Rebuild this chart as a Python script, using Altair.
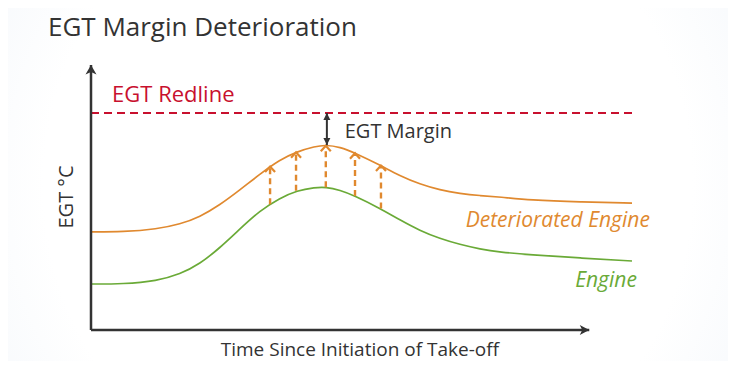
import altair as alt
import pandas as pd

FONT = "Open Sans"
ORANGE = "#e0892f"
GREEN = "#6aaa37"
RED = "#c8102e"
DARK = "#333333"

# Curves: time since initiation of take-off (relative units) vs EGT (relative units)
curve_time = [0, 5.9, 12.2, 16.5, 20.1, 23.8, 27.5, 31.2, 34.9, 38.1, 41.4, 43.4,
              46.0, 48.8, 53.4, 57.1, 60.8, 64.5, 68.2, 71.9, 75.6, 81.1, 90.4, 100]
deteriorated_egt = [452, 452, 465, 488, 521, 576, 645, 718, 785, 822, 846, 853,
                    843, 816, 760, 710, 672, 645, 629, 619, 613, 599, 590, 585]
engine_egt = [212, 212, 226, 258, 304, 378, 465, 550, 608, 643, 657, 659,
              645, 618, 561, 507, 458, 421, 394, 373, 359, 346, 332, 318]

# Deterioration arrows (engine -> deteriorated engine)
arrow_time = [33.1, 37.9, 43.4, 48.8, 53.6]
arrow_base = [580, 642, 658, 618, 560]
arrow_tip = [753, 819, 849, 815, 758]

redline_egt = 1000
redline_span = [0, 100]
margin_time = 43.6
margin_low = 852
axis_x_end = 92.1
axis_y_end = 1221

xs = alt.Scale(domain=[-15.342, 117.745], nice=False, zero=False)
ys = alt.Scale(domain=[-142.9, 1276.5], nice=False, zero=False)


def X(f):
    return alt.X(f, type="quantitative", scale=xs, axis=None)


def Y(f):
    return alt.Y(f, type="quantitative", scale=ys, axis=None)


curves = pd.DataFrame({
    "t": curve_time * 2,
    "egt": deteriorated_egt + engine_egt,
    "series": ["Deteriorated Engine"] * len(curve_time) + ["Engine"] * len(curve_time),
})
arrows = pd.DataFrame({"t": arrow_time, "base": arrow_base, "tip": arrow_tip})

bg = alt.Chart(pd.DataFrame({"a": [0]})).mark_rect(
    fill={"gradient": "radial", "x1": 0.5, "y1": 0.5, "r1": 0.0,
          "x2": 0.5, "y2": 0.5, "r2": 0.75,
          "stops": [{"offset": 0, "color": "#ffffff"},
                    {"offset": 0.6, "color": "#ffffff"},
                    {"offset": 1, "color": "#eef3f9"}]},
    strokeWidth=0,
).encode(x=alt.value(0), x2=alt.value(720), y=alt.value(-45), y2=alt.value(308))

redline = alt.Chart(pd.DataFrame({"t0": [redline_span[0]], "t1": [redline_span[1]], "egt": [redline_egt]})).mark_rule(
    color=RED, strokeWidth=1.8, strokeDash=[8, 5]
).encode(x=X("t0"), x2="t1", y=Y("egt"))

lines = alt.Chart(curves).mark_line(strokeWidth=1.7, interpolate="basis").encode(
    x=X("t"), y=Y("egt"),
    color=alt.Color("series:N", scale=alt.Scale(domain=["Deteriorated Engine", "Engine"], range=[ORANGE, GREEN]), legend=None),
    detail="series:N",
)

dash_arrows = alt.Chart(arrows).mark_rule(color=ORANGE, strokeWidth=2.4, strokeDash=[6, 4]).encode(
    x=X("t"), y=Y("base"), y2="tip"
)
chevrons = alt.Chart(arrows).mark_point(
    shape="M-1,1.1 L0,0 L1,1.1", filled=False, stroke=ORANGE, strokeWidth=2.2, size=100, opacity=1
).encode(x=X("t"), y=Y("tip"))

margin_df = pd.DataFrame({"t": [margin_time], "hi": [redline_egt], "lo": [margin_low]})
margin_line = alt.Chart(margin_df).mark_rule(color=DARK, strokeWidth=2).encode(x=X("t"), y=Y("hi"), y2="lo")
margin_up = alt.Chart(margin_df).mark_point(
    shape="M0,0 L-1,2 L1,2 Z", filled=True, fill=DARK, strokeWidth=0, size=49, opacity=1
).encode(x=X("t"), y=Y("hi"))
margin_down = alt.Chart(margin_df).mark_point(
    shape="M0,0 L-1,-2 L1,-2 Z", filled=True, fill=DARK, strokeWidth=0, size=49, opacity=1
).encode(x=X("t"), y=Y("lo"))

axes_df = pd.DataFrame({"x0": [0], "x1": [axis_x_end], "y0": [0], "y1": [axis_y_end]})
y_axis = alt.Chart(axes_df).mark_rule(color=DARK, strokeWidth=2.5).encode(x=X("x0"), y=Y("y0"), y2="y1")
x_axis = alt.Chart(axes_df).mark_rule(color=DARK, strokeWidth=2.5).encode(x=X("x0"), x2="x1", y=Y("y0"))
y_head = alt.Chart(axes_df).mark_point(
    shape="M0,0 L-1.1,1.9 L0,1.4 L1.1,1.9 Z", filled=True, fill=DARK, strokeWidth=0, size=100, opacity=1
).encode(x=X("x0"), y=Y("y1"))
x_head = alt.Chart(axes_df).mark_point(
    shape="M0,0 L-1.9,-1.0 L-1.4,0 L-1.9,1.0 Z", filled=True, fill=DARK, strokeWidth=0, size=100, opacity=1
).encode(x=X("x1"), y=Y("y0"))


def label(text, t, egt, size, color, align="left", style="normal", angle=0, baseline="alphabetic"):
    return alt.Chart(pd.DataFrame({"t": [t], "egt": [egt], "txt": [text]})).mark_text(
        font=FONT, fontSize=size, color=color, align=align, baseline=baseline,
        fontStyle=style, angle=angle,
    ).encode(x=X("t"), y=Y("egt"), text="txt:N")


labels = [
    label("EGT Margin Deterioration", -7.95, 1357, 26, DARK),
    label("EGT Redline", 3.9, 1051, 22, RED),
    label("EGT Margin", 46.9, 885, 20, DARK),
    label("Deteriorated Engine", 103.3, 475, 21, ORANGE, align="right", style="italic"),
    label("Engine", 100.9, 198, 21, GREEN, align="right", style="italic"),
    label("Time Since Initiation of Take-off", 49.7, -122, 19, DARK, align="center"),
    label("EGT °C", -4.4, 613, 20, DARK, align="center", angle=270, baseline="middle"),
]

chart = alt.layer(
    bg, redline, lines, dash_arrows, chevrons, margin_line, margin_up, margin_down,
    y_axis, x_axis, y_head, x_head, *labels
).properties(
    width=720, height=308,
    autosize=alt.AutoSizeParams(type="none"),
    padding={"top": 45, "left": 0, "right": 0, "bottom": 0},
).configure_view(stroke=None)

chart.save("out.html", embed_options={"renderer": "svg", "actions": False})
